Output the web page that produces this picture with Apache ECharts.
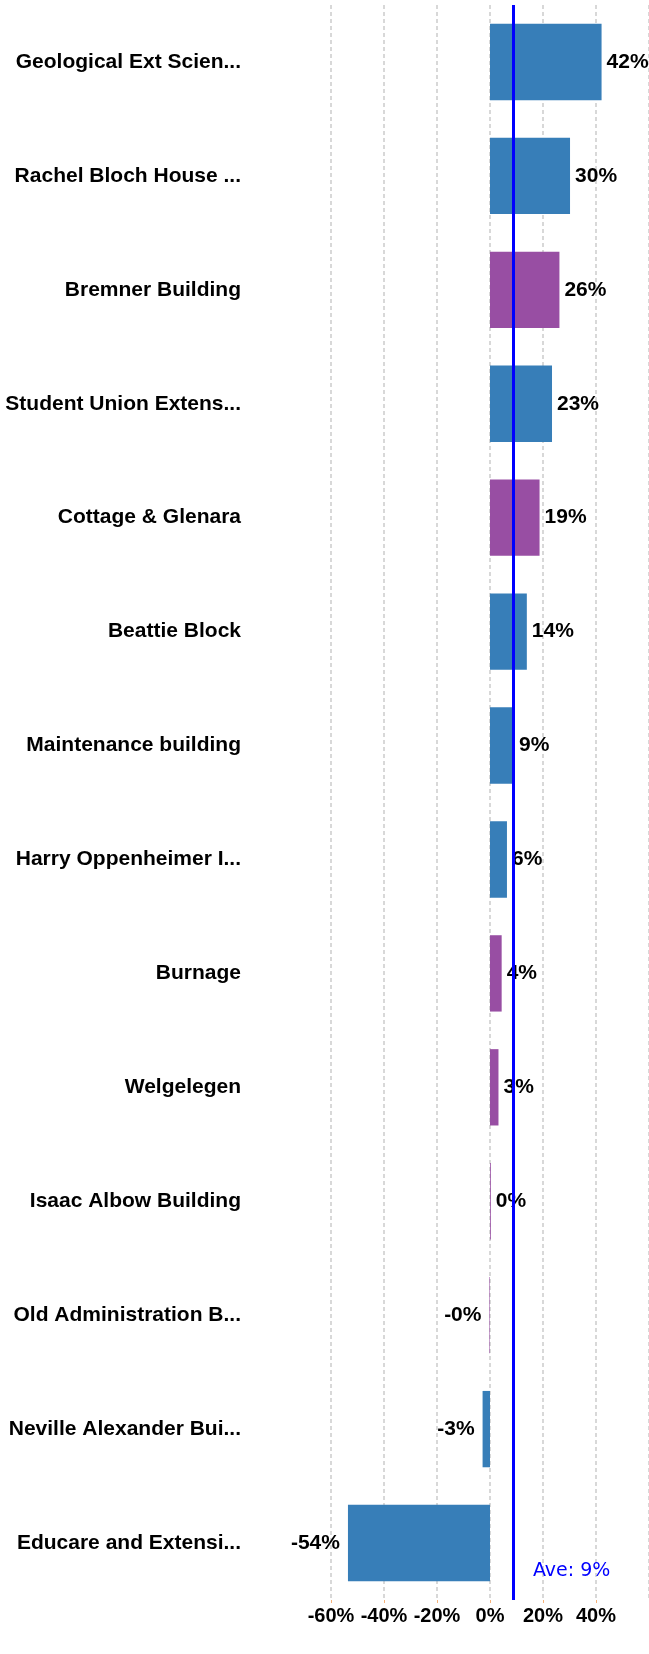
<!DOCTYPE html>
<html>
<head>
<meta charset="utf-8">
<script src="https://cdn.jsdelivr.net/npm/echarts@6/dist/echarts.min.js"></script>
<style>
  html, body { margin: 0; padding: 0; background: #fff; }
  #main { width: 649px; height: 1654px; }
</style>
</head>
<body>
<div id="main"></div>
<script>
var buildings = [
  "Geological Ext Scien...", "Rachel Bloch House ...", "Bremner Building",
  "Student Union Extens...", "Cottage & Glenara", "Beattie Block",
  "Maintenance building", "Harry Oppenheimer I...", "Burnage", "Welgelegen",
  "Isaac Albow Building", "Old Administration B...", "Neville Alexander Bui...",
  "Educare and Extensi..."
];
var change = [42.1, 30.2, 26.2, 23.4, 18.7, 13.9, 9.1, 6.4, 4.4, 3.2, 0.3, -0.2, -2.8, -53.6];
// which bars are drawn purple
var purple = [false, false, true, false, true, false, false, false, true, true, true, true, false, false];
var xTicks = [-60, -40, -20, 0, 20, 40, 60];

var BLUE = "#377eb8", PURPLE = "#984ea3";
var FONT = "Liberation Sans, Arial, sans-serif";

var items = change.map(function (v, i) {
  return {
    value: v,
    itemStyle: { color: purple[i] ? PURPLE : BLUE },
    label: { position: v < 0 ? "left" : "right", distance: v < 0 ? 8 : 5 }
  };
});

var myChart = echarts.init(document.getElementById("main"));
myChart.setOption({
  animation: false,
  grid: { left: 331, right: -2, top: 5, bottom: 54, containLabel: false },
  xAxis: {
    type: "value",
    min: xTicks[0],
    max: xTicks[xTicks.length - 1],
    interval: 20,
    axisLine: { show: false },
    axisTick: { show: true, length: 3, lineStyle: { color: "#f5b27a" } },
    axisLabel: {
      showMaxLabel: false,
      margin: 6,
      color: "#000",
      fontWeight: "bold",
      fontSize: 20,
      fontFamily: FONT,
      formatter: "{value}%"
    },
    splitLine: { show: true, lineStyle: { color: "#cccccc", type: [4, 3], width: 1.5 } }
  },
  yAxis: {
    type: "category",
    data: buildings,
    inverse: true,
    axisLine: { show: false },
    axisTick: { show: false },
    axisLabel: {
      margin: 90,
      color: "#000",
      fontWeight: "bold",
      fontSize: 21,
      fontFamily: FONT
    }
  },
  series: [{
    type: "bar",
    data: items,
    barCategoryGap: "33%",
    label: {
      show: true,
      color: "#000",
      fontWeight: "bold",
      fontSize: 21,
      fontFamily: FONT,
      formatter: function (p) { return p.value.toFixed(0) + "%"; }
    },
    markLine: {
      silent: true,
      symbol: "none",
      lineStyle: { color: "#0000ff", type: "solid", width: 3 },
      label: {
        position: "end",
        distance: -29,
        align: "left",
        verticalAlign: "middle",
        padding: [0, 0, 0, 20],
        color: "#0000ff",
        fontSize: 19,
        fontFamily: "DejaVu Sans, sans-serif",
        formatter: function (p) { return "Ave: " + p.value.toFixed(0) + "%"; }
      },
      data: [{ type: "average", name: "Ave", valueDim: "x" }]
    }
  }]
});
</script>
</body>
</html>
